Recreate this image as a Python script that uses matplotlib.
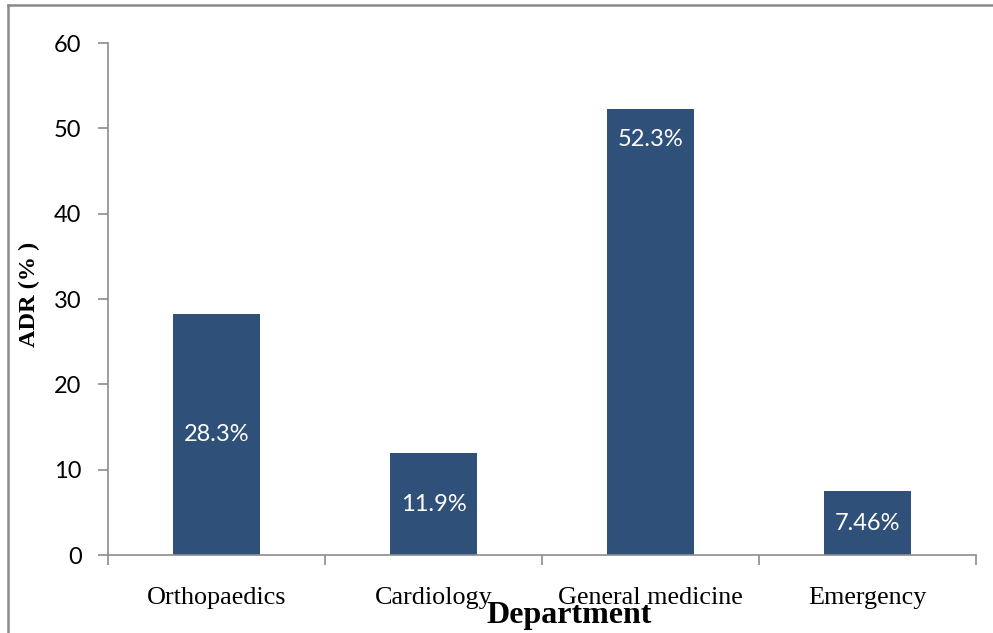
import matplotlib
matplotlib.use("Agg")
import matplotlib.pyplot as plt
from matplotlib.lines import Line2D

categories = ["Orthopaedics", "Cardiology", "General medicine", "Emergency"]
values = [28.3, 11.9, 52.3, 7.46]
labels = ["28.3%", "11.9%", "52.3%", "7.46%"]
label_mode = ["center", "center", "end", "center"]
yticks = [0, 10, 20, 30, 40, 50, 60]

W, H = 993, 633
fig = plt.figure(figsize=(W / 100, H / 100), dpi=100)
ax = fig.add_axes([108 / W, (H - 555) / H, (976 - 108) / W, (555 - 43) / H])

bar_color = "#2f5179"
axis_gray = "#8c8c8c"
x = list(range(len(categories)))
ax.bar(x, values, width=0.4, color=bar_color)

ax.set_xlim(-0.5, len(categories) - 0.5)
ax.set_ylim(0, 60)
ax.set_yticks(yticks)
ax.set_yticklabels([str(t) for t in yticks], fontfamily="Lato", fontsize=17)
ax.set_xticks(x)
ax.set_xticklabels(categories, fontfamily="Liberation Serif", fontsize=18.8)
ax.tick_params(axis="x", which="major", length=0, pad=23)
ax.set_xticks([i - 0.5 for i in range(len(categories) + 1)], minor=True)
ax.tick_params(axis="x", which="minor", length=7, color=axis_gray, width=1.2, direction="out")
ax.tick_params(axis="y", length=7, color=axis_gray, width=1.2, direction="out", pad=12)

for s in ["top", "right"]:
    ax.spines[s].set_visible(False)
for s in ["left", "bottom"]:
    ax.spines[s].set_color(axis_gray)
    ax.spines[s].set_linewidth(1.2)

for xi, v, lab, mode in zip(x, values, labels, label_mode):
    if mode == "center":
        ax.annotate(lab, (xi, v / 2), ha="center", va="center", color="white",
                    fontfamily="Lato", fontsize=17)
    else:
        ax.annotate(lab, (xi, v), xytext=(0, -22), textcoords="offset points",
                    ha="center", va="center", color="white", fontfamily="Lato", fontsize=17)

fig.text(569 / W, 1 - 615 / H, "Department", ha="center", va="center",
         fontfamily="Liberation Serif", fontweight="bold", fontsize=23)
fig.text(29 / W, 1 - 294 / H, "ADR (% )", ha="center", va="center", rotation=90,
         fontfamily="Liberation Serif", fontweight="bold", fontsize=17.5)

border = "#8a8a8a"
fig.add_artist(Line2D([7.5 / W, 7.5 / W], [0, 1 - 5 / H], transform=fig.transFigure,
                      color=border, linewidth=1.8))
fig.add_artist(Line2D([7.5 / W, 1], [1 - 5 / H, 1 - 5 / H], transform=fig.transFigure,
                      color=border, linewidth=1.8))

fig.savefig("out.png", dpi=100)
